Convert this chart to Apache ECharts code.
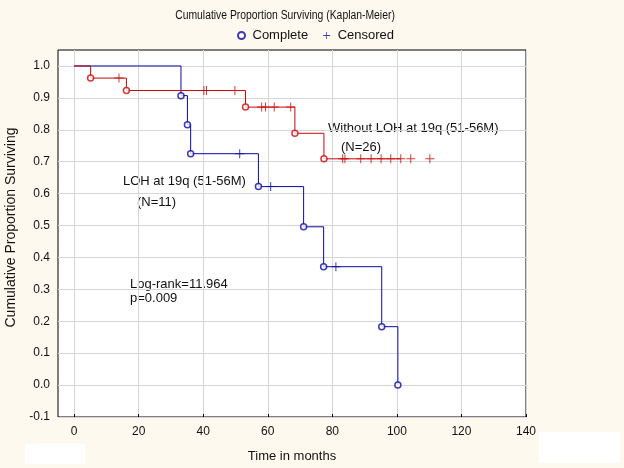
<!DOCTYPE html>
<html><head><meta charset="utf-8">
<script src="https://cdn.jsdelivr.net/npm/echarts@6/dist/echarts.min.js"></script>
<style>html,body{margin:0;padding:0;background:#FDF9EE;}#c{width:624px;height:468px;}</style>
</head><body><div id="c"></div>
<script>
// ---- data ----
const xTicks = [0, 20, 40, 60, 80, 100, 120, 140];
const yTicks = [-0.1, 0.0, 0.1, 0.2, 0.3, 0.4, 0.5, 0.6, 0.7, 0.8, 0.9, 1.0];

// Without LOH at 19q (N=26) - red
const redEventTimes = [5.1, 16.2, 53.1, 68.4, 77.4];
const redEventSurv  = [0.962, 0.923, 0.871, 0.789, 0.709];
const redCensTimes  = [13.9, 40.2, 41.0, 49.8, 58.1, 59.3, 62.0, 67.1, 83.2, 83.9, 88.8, 92.0, 95.1, 98.1, 101.2, 104.3, 110.2];
const redCensSurv   = [0.962, 0.923, 0.923, 0.923, 0.871, 0.871, 0.871, 0.871, 0.709, 0.709, 0.709, 0.709, 0.709, 0.709, 0.709, 0.709, 0.709];
const redLineEnd = 101.2;

// LOH at 19q (N=11) - blue
const blueEventTimes = [33.1, 35.1, 36.1, 57.1, 71.1, 77.3, 95.3, 100.3];
const blueEventSurv  = [0.907, 0.816, 0.725, 0.622, 0.496, 0.371, 0.183, 0.0];
const blueCensTimes  = [51.3, 60.9, 81.1];
const blueCensSurv   = [0.725, 0.622, 0.371];

const RED = '#C80808', BLUE = '#0A0AA8';
const PLUS = 'path://M4,0h1v9h-1z M0,4h9v1h-9z';
const FONT = 'Liberation Sans, Arial, sans-serif';

function stepLine(times, surv, endT) {
  const d = [[0, 1.0]];
  times.forEach((t, i) => d.push([t, surv[i]]));
  if (endT != null) d.push([endT, surv[surv.length - 1]]);
  return d;
}
const zip = (a, b) => a.map((v, i) => [v, b[i]]);

const chart = echarts.init(document.getElementById('c'), null, {renderer: 'canvas'});
chart.setOption({
  backgroundColor: '#FDF9EE',
  animation: false,
  legend: {
    left: 232, top: 24, itemWidth: 12, itemHeight: 7, itemGap: 15,
    textStyle: {fontFamily: FONT, fontSize: 13, color: '#111'},
    data: [{name: 'Complete', icon: 'circle'}, {name: 'Censored', icon: PLUS}]
  },
  grid: {left: 58, right: 98, top: 50, bottom: 51, containLabel: false, outerBoundsMode: 'none',
         show: true, backgroundColor: '#fff', borderColor: '#000', borderWidth: 1},
  xAxis: {
    type: 'value', min: -5, max: 140,
    name: 'Time in months', nameLocation: 'middle', nameGap: 33,
    nameTextStyle: {fontFamily: FONT, fontSize: 13, color: '#111'},
    axisLine: {show: false, onZero: false},
    axisTick: {show: true, inside: true, length: 3, lineStyle: {color: '#000'}, customValues: xTicks},
    axisLabel: {customValues: xTicks, fontFamily: FONT, fontSize: 12, color: '#111', margin: 9},
    splitLine: {show: true, lineStyle: {color: '#D6D6D6', width: 1}}
  },
  yAxis: {
    type: 'value', min: -0.1, max: 1.05,
    name: 'Cumulative Proportion Surviving', nameLocation: 'middle', nameGap: 37,
    nameTextStyle: {fontFamily: FONT, fontSize: 14, color: '#111', padding: [0, 0, 0, 12]},
    axisLine: {show: false, onZero: false},
    axisTick: {show: false, customValues: yTicks},
    axisLabel: {customValues: yTicks, fontFamily: FONT, fontSize: 12, color: '#111', margin: 8,
      formatter: v => v.toFixed(1)},
    splitLine: {show: true, lineStyle: {color: '#D6D6D6', width: 1}}
  },
  series: [
    {name: 'LOH line', type: 'line', step: 'end', showSymbol: false, z: 2,
     lineStyle: {color: BLUE, width: 1}, data: stepLine(blueEventTimes, blueEventSurv, null)},
    {name: 'LOH events', type: 'scatter', symbol: 'circle', symbolSize: 6, z: 3,
     itemStyle: {color: '#fff', borderColor: BLUE, borderWidth: 1.5}, data: zip(blueEventTimes, blueEventSurv)},
    {name: 'LOH cens', type: 'scatter', symbol: PLUS, symbolSize: 9, z: 3,
     itemStyle: {color: BLUE}, data: zip(blueCensTimes, blueCensSurv)},
    {name: 'Without line', type: 'line', step: 'end', showSymbol: false, z: 4,
     lineStyle: {color: RED, width: 1}, data: stepLine(redEventTimes, redEventSurv, redLineEnd)},
    {name: 'Without events', type: 'scatter', symbol: 'circle', symbolSize: 6, z: 5,
     itemStyle: {color: '#fff', borderColor: RED, borderWidth: 1.5}, data: zip(redEventTimes, redEventSurv)},
    {name: 'Without cens', type: 'scatter', symbol: PLUS, symbolSize: 9, z: 5,
     itemStyle: {color: RED}, data: zip(redCensTimes, redCensSurv)},
    {name: 'Complete', type: 'scatter', symbol: 'circle', itemStyle: {color: '#fff', borderColor: BLUE, borderWidth: 1.5}, data: []},
    {name: 'Censored', type: 'scatter', symbol: PLUS, itemStyle: {color: BLUE}, data: []}
  ],
  graphic: [
    {type: 'text', x: 285, y: 16, scaleX: 0.83,
     style: {text: 'Cumulative Proportion Surviving (Kaplan-Meier)', font: '12.5px ' + FONT, fill: '#111',
             textAlign: 'center', textVerticalAlign: 'middle'}},
    {type: 'text', left: 328, top: 122, style: {text: 'Without LOH at 19q (51-56M)', font: '13px ' + FONT, fill: '#111'}},
    {type: 'text', left: 341, top: 141, style: {text: '(N=26)', font: '13px ' + FONT, fill: '#111'}},
    {type: 'text', left: 123, top: 175, style: {text: 'LOH at 19q (51-56M)', font: '13px ' + FONT, fill: '#111'}},
    {type: 'text', left: 137, top: 196, style: {text: '(N=11)', font: '13px ' + FONT, fill: '#111'}},
    {type: 'text', left: 130, top: 278, style: {text: 'Log-rank=11.964', font: '13px ' + FONT, fill: '#111'}},
    {type: 'text', left: 130, top: 292, style: {text: 'p=0.009', font: '13px ' + FONT, fill: '#111'}},
    {type: 'rect', shape: {x: 25, y: 444, width: 60, height: 20}, style: {fill: '#fff'}, z: 100},
    {type: 'rect', shape: {x: 539, y: 432, width: 81, height: 31}, style: {fill: '#fff'}, z: 100}
  ]
});
</script></body></html>
